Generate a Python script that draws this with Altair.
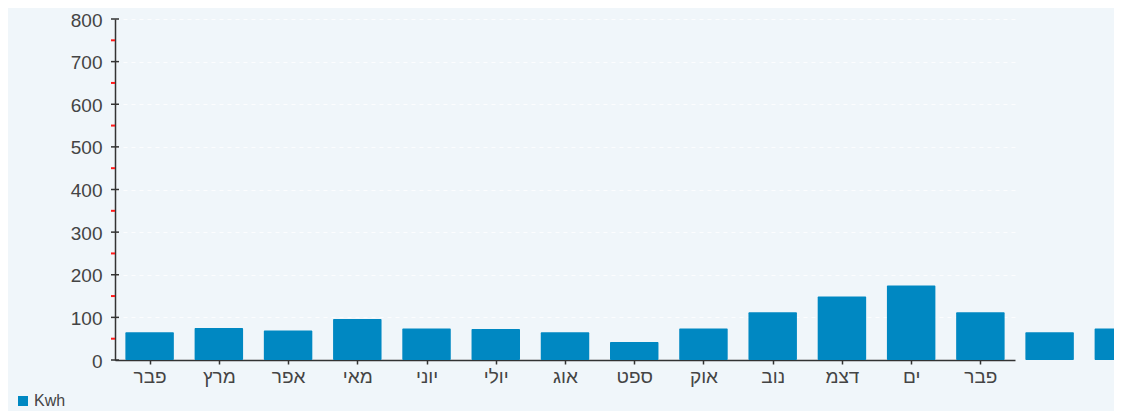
import altair as alt
import pandas as pd

# Data
months = ["פבר", "מרץ", "אפר", "מאי", "יוני", "יולי", "אוג", "ספט", "אוק", "נוב", "דצמ", "ים", "פבר"]
kwh = [65, 75, 69, 96, 74, 73, 65, 42, 74, 112, 149, 175, 112, 65, 74]
series_name = "Kwh"
major_ticks = [0, 100, 200, 300, 400, 500, 600, 700, 800]
minor_ticks = [50, 150, 250, 350, 450, 550, 650, 750]

n_labeled = len(months)
df = pd.DataFrame({
    "idx": list(range(len(kwh))),
    "value": kwh,
    "series": [series_name] * len(kwh),
})
df["x0"] = df["idx"] + 0.15
df["x1"] = df["idx"] + 0.85

label_js = "[" + ",".join("'" + m + "'" for m in months) + "]"
x_vals = [i + 0.5 for i in range(n_labeled)]

FONT = "Liberation Sans"
TXT = "#444444"

bars = alt.Chart(df).mark_bar(cornerRadius=1, orient="vertical").encode(
    x=alt.X("x0:Q", scale=alt.Scale(domain=[0, n_labeled], nice=False, zero=False, padding=0),
            axis=alt.Axis(title=None, values=x_vals, grid=False,
                          labelExpr=label_js + "[floor(datum.value)]",
                          labelFont=FONT, labelFontSize=19, labelColor=TXT,
                          tickSize=4, tickColor="#333333", tickWidth=1.5,
                          labelPadding=3, domainColor="#333333", domainWidth=1.5,
                          labelFlush=False, labelOverlap=False)),
    x2="x1:Q",
    y=alt.Y("value:Q", scale=alt.Scale(domain=[0, 800], nice=False, padding=0),
            axis=alt.Axis(title=None, values=major_ticks, ticks=False,
                          labelFont=FONT, labelFontSize=19, labelColor=TXT,
                          labelPadding=13, labelOffset=1,
                          domainColor="#333333", domainWidth=1.5,
                          grid=True, gridColor="#ffffff", gridDash=[4, 4],
                          gridOpacity=0.8)),
    y2=alt.datum(0),
    color=alt.Color("series:N", scale=alt.Scale(range=["#0088c2"]),
                    legend=alt.Legend(title=None, orient="none", legendX=-100, legendY=374,
                                      symbolType="square", symbolSize=100,
                                      symbolStrokeWidth=0, labelFont=FONT,
                                      labelFontSize=16, labelColor=TXT,
                                      labelOffset=3, padding=0)),
)

major_df = pd.DataFrame({"v": major_ticks})
minor_df = pd.DataFrame({"v": minor_ticks})

major = alt.Chart(major_df).mark_rule(color="#333333", strokeWidth=1.5).encode(
    y="v:Q", x=alt.value(-4), x2=alt.value(4)
)
minor = alt.Chart(minor_df).mark_rule(color="#ff1a1a", strokeWidth=2).encode(
    y="v:Q", x=alt.value(-4), x2=alt.value(0)
)

chart = alt.layer(bars, major, minor).properties(
    width=900, height=341,
    autosize=alt.AutoSizeParams(type="none"),
    padding={"left": 107, "top": 11, "right": 99, "bottom": 51},
    background="#f0f6fa",
).configure_view(stroke=None)

chart.save("out.html", embed_options={"renderer": "svg", "actions": False})
